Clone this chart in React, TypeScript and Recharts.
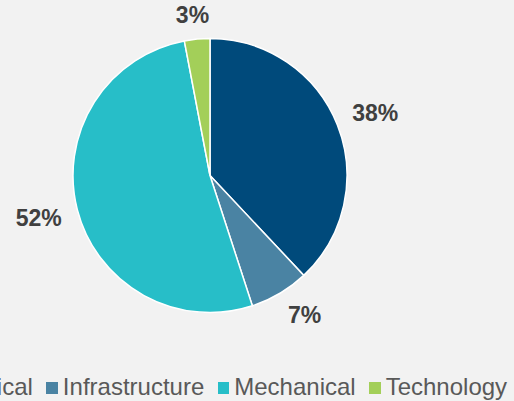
import { PieChart, Pie, Cell, Legend } from 'recharts'

// Share of work by discipline (percent)
const CATEGORIES = ['Electrical', 'Infrastructure', 'Mechanical', 'Technology']
const VALUES = [38, 7, 52, 3]
const COLORS = ['#004A7B', '#4A83A3', '#27BEC8', '#A3CF59']

const DATA = CATEGORIES.map((name, i) => ({ name, value: VALUES[i] }))

const FONT = '"Liberation Sans", Arial, sans-serif'
const RADIAN = Math.PI / 180
const LABEL_SIZE = 23

interface LabelProps {
  cx: number
  cy: number
  midAngle: number
  outerRadius: number
  percent: number
}

const clamp = (v: number) => Math.max(-1, Math.min(1, v))

// outside-end label: the box corner nearest the pie sits just past the rim
function renderLabel({ cx, cy, midAngle, outerRadius, percent }: LabelProps) {
  const text = `${Math.round(percent * 100)}%`
  const ux = Math.cos(-midAngle * RADIAN)
  const uy = Math.sin(-midAngle * RADIAN)
  const w = (0.556 * (text.length - 1) + 0.889) * LABEL_SIZE
  const h = LABEL_SIZE * 0.72
  const d = outerRadius + 16
  const x = cx + d * ux + clamp(ux / 0.5) * (w / 2)
  const y = cy + d * uy + clamp(uy / 0.5) * (h / 2)
  return (
    <text
      x={x}
      y={y}
      textAnchor="middle"
      dominantBaseline="central"
      fill="#404040"
      fontFamily={FONT}
      fontSize={LABEL_SIZE}
      fontWeight="bold"
    >
      {text}
    </text>
  )
}

interface LegendProps {
  payload?: { value: string; color: string }[]
}

function LegendContent({ payload }: LegendProps) {
  return (
    <div style={{ display: 'flex', alignItems: 'center', whiteSpace: 'nowrap' }}>
      {(payload || []).map((item) => (
        <span
          key={item.value}
          style={{ display: 'flex', alignItems: 'center', marginRight: 13.5 }}
        >
          <span
            style={{
              display: 'inline-block',
              width: 11.5,
              height: 11.5,
              background: item.color,
              marginRight: 5,
              marginTop: 2,
            }}
          />
          <span style={{ fontFamily: FONT, fontSize: 24, color: '#595959' }}>
            {item.value}
          </span>
        </span>
      ))}
    </div>
  )
}

export default function App() {
  return (
    <div
      style={{
        position: 'fixed',
        left: 0,
        top: 0,
        width: 514,
        height: 401,
        overflow: 'hidden',
        background: '#F2F2F2',
      }}
    >
      <PieChart width={514} height={401} margin={{ top: 0, right: 0, bottom: 0, left: 0 }}>
        <Pie
          data={DATA}
          dataKey="value"
          nameKey="name"
          cx={210}
          cy={175.5}
          outerRadius={137}
          startAngle={90}
          endAngle={-270}
          stroke="#FFFFFF"
          strokeWidth={1.5}
          label={renderLabel}
          labelLine={false}
          isAnimationActive={false}
        >
          {DATA.map((_, i) => (
            <Cell key={i} fill={COLORS[i]} />
          ))}
        </Pie>
        <Legend
          verticalAlign="bottom"
          content={<LegendContent />}
          wrapperStyle={{ left: -81, top: 373, width: 700 }}
        />
      </PieChart>
    </div>
  )
}
